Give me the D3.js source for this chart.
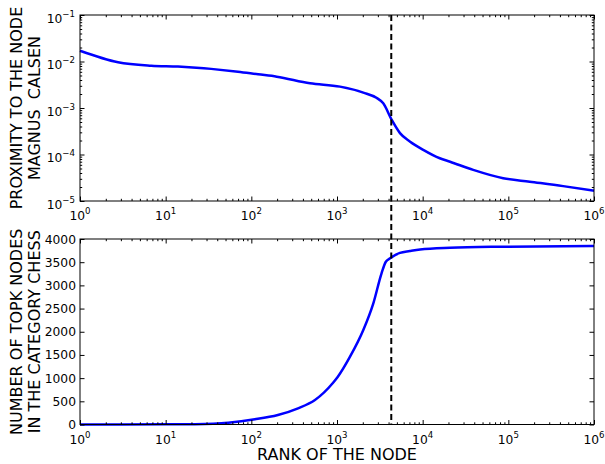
<!DOCTYPE html>
<html><head><meta charset="utf-8">
<script src="https://cdn.jsdelivr.net/npm/d3@7"></script>
<style>body{margin:0;background:#fff}svg{display:block;font-family:"DejaVu Sans",sans-serif}</style>
</head><body><svg id="c" width="605" height="464"></svg>
<script>
// ---- data ----
const rankTop = [1, 2.78, 6.8, 13.9, 69.8, 120, 198, 484, 1084, 2028, 2884, 3467, 4365, 5433, 7079, 10160, 15850, 20900, 38900, 87100, 177800, 436500, 1000000];
const proximity = [0.0170, 0.00962, 0.00813, 0.00776, 0.00603, 0.0053, 0.00472, 0.00339, 0.00288, 0.00214, 0.00166, 0.00126, 0.00055, 0.000288, 0.000191, 0.000126, 0.000083, 0.000070, 0.0000468, 0.0000309, 0.000026, 0.0000209, 0.0000166];
const rankBottom = [1, 10, 21.9, 53.7, 110, 204, 351, 553, 900, 1023, 1419, 2028, 2655, 3311, 3715, 4169, 5433, 7079, 9333, 20900, 79400, 1000000];
const topkCount = [0, 3, 8, 40, 112, 205, 349, 528, 900, 1030, 1462, 2038, 2613, 3260, 3510, 3584, 3700, 3740, 3775, 3812, 3834, 3848];
const cutoffRank = 4300;
const xTickExps = [0, 1, 2, 3, 4, 5, 6];
const yTopTickExps = [-1, -2, -3, -4, -5];
const yBottomTicks = [0, 500, 1000, 1500, 2000, 2500, 3000, 3500, 4000];
const xLabel = "RANK OF THE NODE";
const yTopLabel = ["PROXIMITY TO THE NODE", "MAGNUS  CALSEN"];
const yBottomLabel = ["NUMBER OF TOPK NODES", "IN THE CATEGORY CHESS"];

// ---- layout ----
const L = 80, R = 594;
const T1 = 15, B1 = 201, T2 = 239, B2 = 424.5;
const svg = d3.select("#c");

const x = d3.scaleLog().domain([1, 1e6]).range([L, R]);
const yTop = d3.scaleLog().domain([1e-5, 1e-1]).range([B1, T1]);
const yBot = d3.scaleLinear().domain([0, 4000]).range([B2, T2]);

function minorLog(lo, hi) {
  const out = [];
  for (let e = lo; e < hi; e++) for (let m = 2; m <= 9; m++) out.push(m * Math.pow(10, e));
  return out;
}
const xMajor = xTickExps.map(e => Math.pow(10, e));
const xMinor = minorLog(0, 6);
const yTopMajor = yTopTickExps.map(e => Math.pow(10, e));
const yTopMinor = minorLog(-5, -1);

function tickAxis(axisFn, scale, vals, size, tr) {
  const g = svg.append("g").attr("transform", tr)
    .call(axisFn(scale).tickValues(vals).tickSize(size).tickFormat(""));
  g.select(".domain").remove();
  g.selectAll("line").attr("stroke", "#000").attr("stroke-width", 1);
  return g;
}

function panelTicks(yScale, yMajor, yMinor, T, B) {
  tickAxis(d3.axisBottom, x, xMajor, -4.5, `translate(0,${B})`);
  tickAxis(d3.axisBottom, x, xMinor, -2.2, `translate(0,${B})`);
  tickAxis(d3.axisTop, x, xMajor, -4.5, `translate(0,${T})`);
  tickAxis(d3.axisTop, x, xMinor, -2.2, `translate(0,${T})`);
  tickAxis(d3.axisLeft, yScale, yMajor, -4.5, `translate(${L},0)`);
  tickAxis(d3.axisRight, yScale, yMajor, -4.5, `translate(${R},0)`);
  if (yMinor) {
    tickAxis(d3.axisLeft, yScale, yMinor, -2.2, `translate(${L},0)`);
    tickAxis(d3.axisRight, yScale, yMinor, -2.2, `translate(${R},0)`);
  }
}

function xLabels(B) {
  const g = svg.append("g");
  xTickExps.forEach(e => {
    const t = g.append("text").attr("x", x(Math.pow(10, e))).attr("y", B + 19)
      .attr("text-anchor", "middle").attr("font-size", 12.3).attr("fill", "#000");
    t.append("tspan").text("10");
    t.append("tspan").attr("dy", -6).attr("font-size", 8.6).text(String(e).replace("-", "\u2212"));
  });
}

// ---- curves ----
const lineTop = d3.line().x((d, i) => x(rankTop[i])).y(d => yTop(d)).curve(d3.curveMonotoneX);
const lineBot = d3.line().x((d, i) => x(rankBottom[i])).y(d => yBot(d)).curve(d3.curveMonotoneX);

svg.append("path").attr("d", lineTop(proximity)).attr("fill", "none")
  .attr("stroke", "#0000ff").attr("stroke-width", 2.5).attr("stroke-linejoin", "round");
svg.append("path").attr("d", lineBot(topkCount)).attr("fill", "none")
  .attr("stroke", "#0000ff").attr("stroke-width", 2.5).attr("stroke-linejoin", "round");

// ---- frames & ticks ----
panelTicks(yTop, yTopMajor, yTopMinor, T1, B1);
panelTicks(yBot, yBottomTicks, null, T2, B2);
[[T1, B1], [T2, B2]].forEach(([t, b]) => {
  svg.append("rect").attr("x", L).attr("y", t).attr("width", R - L).attr("height", b - t)
    .attr("fill", "none").attr("stroke", "#000").attr("stroke-width", 1);
});

// dashed cutoff line
svg.append("line").attr("x1", x(cutoffRank)).attr("x2", x(cutoffRank))
  .attr("y1", T1).attr("y2", B2).attr("stroke", "#000").attr("stroke-width", 2)
  .attr("stroke-dasharray", "6,3.5");

// ---- tick labels ----
xLabels(B1);
xLabels(B2);
yTopTickExps.forEach(e => {
  const t = svg.append("text").attr("x", 75).attr("y", yTop(Math.pow(10, e)) + 7.5)
    .attr("text-anchor", "end").attr("font-size", 12.3).attr("fill", "#000");
  t.append("tspan").text("10");
  t.append("tspan").attr("dy", -6).attr("font-size", 8.6).text(String(e).replace("-", "\u2212"));
});
yBottomTicks.forEach(v => {
  svg.append("text").attr("x", 76).attr("y", yBot(v) + 4.5)
    .attr("text-anchor", "end").attr("font-size", 12.3).attr("fill", "#000").text(v);
});

// ---- axis titles ----
svg.append("text").attr("x", (L + R) / 2).attr("y", 460).attr("text-anchor", "middle")
  .attr("font-size", 16).attr("fill", "#000").text(xLabel);
function yTitle(lines, cy) {
  lines.forEach((s, i) => {
    const bx = 21.5 + i * 18;
    svg.append("text").attr("transform", `translate(${bx},${cy}) rotate(-90)`)
      .attr("text-anchor", "middle").attr("font-size", 16).attr("fill", "#000")
      .attr("xml:space", "preserve").style("white-space", "pre").text(s);
  });
}
yTitle(yTopLabel, (T1 + B1) / 2);
yTitle(yBottomLabel, (T2 + B2) / 2);
</script></body></html>
